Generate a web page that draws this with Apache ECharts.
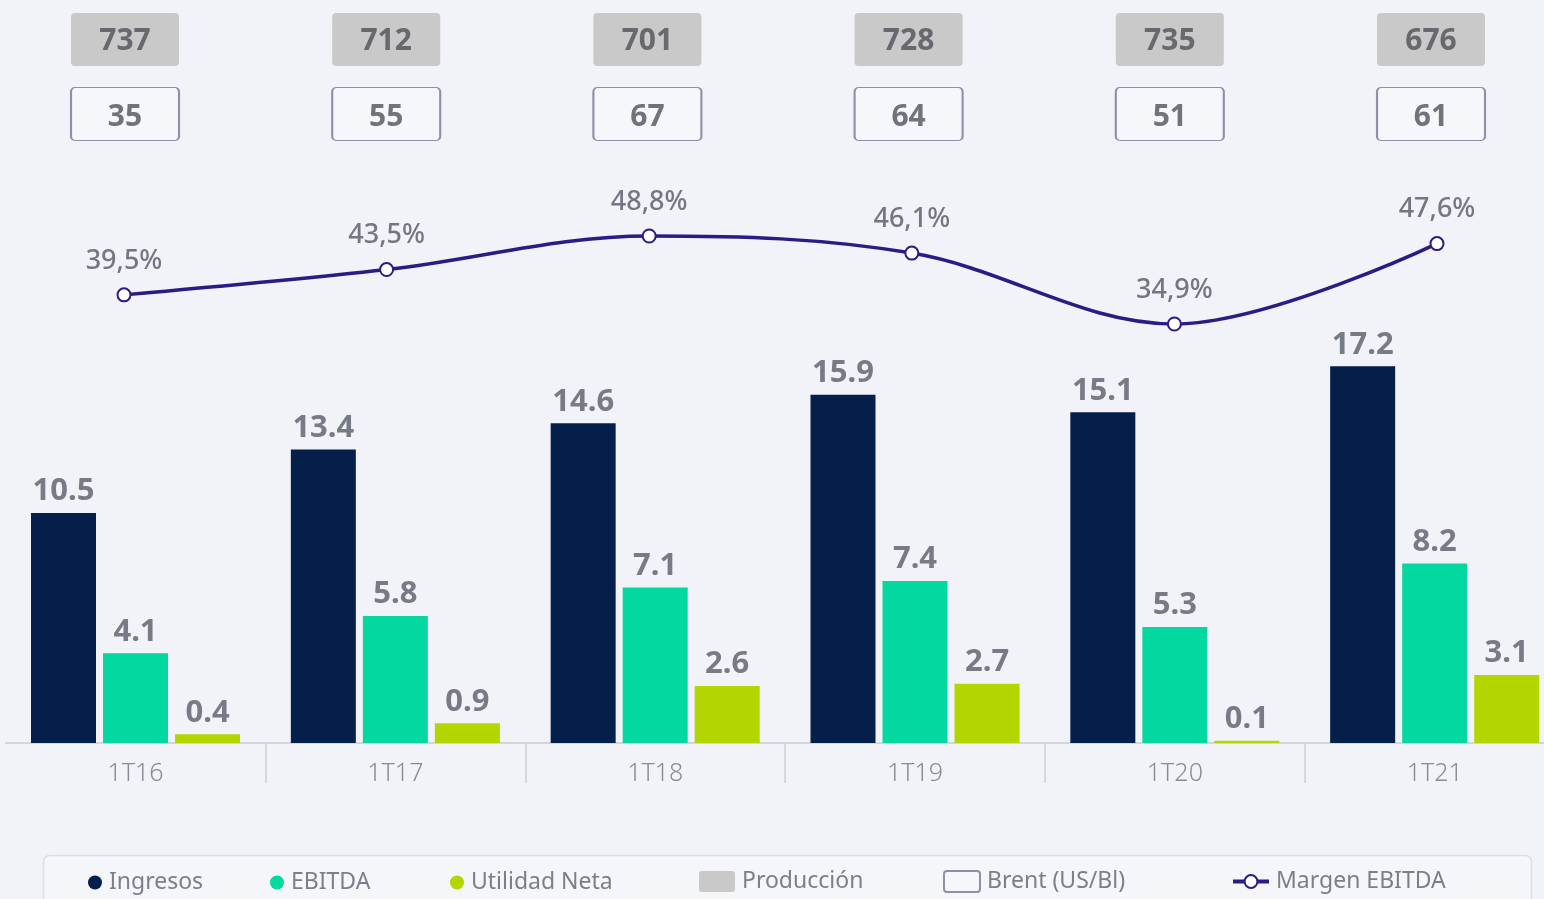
<!DOCTYPE html>
<html>
<head>
<meta charset="utf-8">
<script src="https://cdn.jsdelivr.net/npm/echarts@6/dist/echarts.min.js"></script>
<style>
html,body{margin:0;padding:0;background:#f2f3f8;}
#main{width:1544px;height:899px;}
</style>
</head>
<body>
<div id="main"></div>
<script>
const categories = ['1T16','1T17','1T18','1T19','1T20','1T21'];
const ingresos = [10.5, 13.4, 14.6, 15.9, 15.1, 17.2];
const ebitda = [4.1, 5.8, 7.1, 7.4, 5.3, 8.2];
const utilidad = [0.4, 0.9, 2.6, 2.7, 0.1, 3.1];
const produccion = [737, 712, 701, 728, 735, 676];
const brent = [35, 55, 67, 64, 51, 61];
const margen = [39.5, 43.5, 48.8, 46.1, 34.9, 47.6];
const boxRows = ['Producción', 'Brent (US/Bl)'];

const FONT = "'Noto Sans', sans-serif";
const labelGrey = '#777b85';
const boxPath = 'path://M4,0H104A4,4 0 0 1 108,4V49A4,4 0 0 1 104,53H4A4,4 0 0 1 0,49V4A4,4 0 0 1 4,0Z';
const iconPath = 'path://M3,0H33A3,3 0 0 1 36,3V18A3,3 0 0 1 33,21H3A3,3 0 0 1 0,18V3A3,3 0 0 1 3,0Z';

const chart = echarts.init(document.getElementById('main'), null, {renderer:'canvas'});

const barLabel = {
  show: true, position: 'top', distance: 6,
  color: labelGrey, fontFamily: FONT, fontWeight: 'bold', fontSize: 31,
  formatter: p => p.value.toFixed(1)
};

function legendItem(name, left, w, h, extra) {
  return Object.assign({
    data: [name], left: left, top: 871, orient: 'horizontal', padding: 0,
    itemWidth: w, itemHeight: h, itemGap: 0,
    textStyle: {color: '#7b7f89', fontFamily: FONT, fontSize: 23, padding: [0,0,0,2]},
    selectedMode: false
  }, extra || {});
}

const option = {
  backgroundColor: '#f2f3f8',
  animation: false,
  graphic: [{
    type: 'rect', z: -1,
    shape: {x: 43.5, y: 855.5, width: 1488, height: 80, r: 6},
    style: {fill: '#f5f6fa', stroke: '#dcdee5', lineWidth: 1.5}
  }],
  legend: [
    legendItem('Ingresos', 88, 14, 14, {icon: 'circle'}),
    legendItem('EBITDA', 270, 14, 14, {icon: 'circle'}),
    legendItem('Utilidad Neta', 450, 14, 14, {icon: 'circle'}),
    legendItem('Producción', 699, 36, 21, {icon: iconPath, top: 870}),
    legendItem('Brent (US/Bl)', 943, 36, 21, {icon: iconPath, top: 870}),
    legendItem('Margen EBITDA', 1231, 36, 16, {top: 870, lineStyle: {width: 4},
      itemStyle: {borderWidth: 3.5}})
  ],
  grid: [
    {left: 5.6, width: 1559, top: 195.5, height: 547.5, containLabel: false, outerBoundsMode: 'none'},
    {left: -7.3, width: 1575.6, top: 195.5, height: 547.5, containLabel: false, outerBoundsMode: 'none'},
    {left: -5.6, width: 1567.2, top: 2.25, height: 149, containLabel: false, outerBoundsMode: 'none'}
  ],
  xAxis: [
    {
      type: 'category', gridIndex: 0, data: categories, boundaryGap: true,
      axisLine: {show: true, lineStyle: {color: '#c9cbd2', width: 1.5}},
      axisTick: {show: true, length: 40, lineStyle: {color: '#cdd0d6', width: 1.5},
        interval: (i) => i !== 0},
      axisLabel: {color: '#878b94', fontFamily: FONT, fontSize: 25, fontWeight: 300, margin: 18}
    },
    {type: 'category', gridIndex: 1, data: categories, show: false},
    {type: 'category', gridIndex: 2, data: categories, show: false}
  ],
  yAxis: [
    {type: 'value', gridIndex: 0, min: 0, max: 25, show: false, splitLine: {show: false}},
    {type: 'value', gridIndex: 1, min: -31.3, max: 55.2, show: false, splitLine: {show: false}},
    {type: 'category', gridIndex: 2, data: boxRows, inverse: true, show: false}
  ],
  series: [
    {
      name: 'Ingresos', type: 'bar', xAxisIndex: 0, yAxisIndex: 0,
      data: ingresos, barWidth: 65, barGap: '10.8%',
      itemStyle: {color: '#04204a'}, label: barLabel
    },
    {
      name: 'EBITDA', type: 'bar', xAxisIndex: 0, yAxisIndex: 0,
      data: ebitda, barWidth: 65, barGap: '10.8%',
      itemStyle: {color: '#03d8a1'}, label: barLabel
    },
    {
      name: 'Utilidad Neta', type: 'bar', xAxisIndex: 0, yAxisIndex: 0,
      data: utilidad, barWidth: 65, barGap: '10.8%',
      itemStyle: {color: '#b3d500'}, label: barLabel
    },
    {
      name: 'Margen EBITDA', type: 'line', xAxisIndex: 1, yAxisIndex: 1,
      data: margen, smooth: 0.35, clip: false,
      symbol: 'emptyCircle', symbolSize: 13,
      lineStyle: {color: '#2c1a86', width: 3.5},
      itemStyle: {color: '#2c1a86', borderWidth: 3.5, borderColor: '#2c1a86'},
      label: {
        show: true, position: 'top', distance: 13,
        color: '#737782', fontFamily: FONT, fontSize: 27, fontWeight: 500,
        formatter: p => p.value.toFixed(1).replace('.', ',') + '%'
      }
    },
    {
      name: 'Producción', type: 'scatter', xAxisIndex: 2, yAxisIndex: 2,
      data: produccion.map((v, i) => [categories[i], boxRows[0], v]),
      symbol: boxPath, symbolSize: [108, 53], symbolKeepAspect: false,
      itemStyle: {color: '#c9c9ca', opacity: 1},
      label: {
        show: true, position: 'inside', formatter: p => p.value[2], offset: [0, 2],
        color: '#67696e', fontFamily: FONT, fontWeight: 'bold', fontSize: 30
      }
    },
    {
      name: 'Brent (US/Bl)', type: 'scatter', xAxisIndex: 2, yAxisIndex: 2,
      data: brent.map((v, i) => [categories[i], boxRows[1], v]),
      symbol: boxPath, symbolSize: [108, 53], symbolKeepAspect: false,
      itemStyle: {color: '#f6f7fb', borderColor: '#8e90aa', borderWidth: 1.5, opacity: 1},
      label: {
        show: true, position: 'inside', formatter: p => p.value[2], offset: [0, 3],
        color: '#6f737c', fontFamily: FONT, fontWeight: 'bold', fontSize: 30
      }
    }
  ]
};
chart.setOption(option);
</script>
</body>
</html>
